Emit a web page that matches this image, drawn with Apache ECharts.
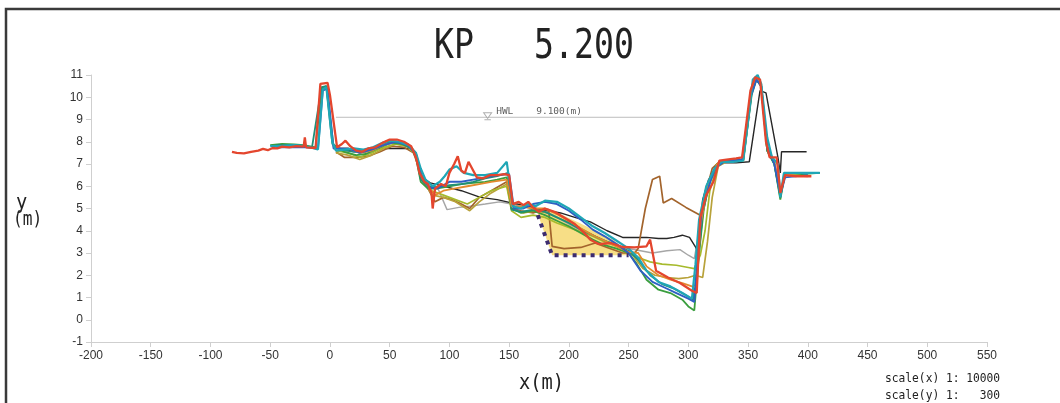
<!DOCTYPE html>
<html>
<head>
<meta charset="utf-8">
<script src="https://cdn.jsdelivr.net/npm/echarts@6/dist/echarts.min.js"></script>
<style>
  html, body { margin: 0; padding: 0; background: #fff; }
  #chart { width: 1060px; height: 403px; }
</style>
</head>
<body>
<div id="chart"></div>
<script>
// Cross-section survey profiles at KP 5.200, x = distance (m), y = elevation (m)
const xTicks = { min: -200, max: 550, interval: 50 };
const yTicks = { min: -1, max: 11, interval: 1 };
const hwlLevel = 9.1;
const hwlSpan = [5, 352];
const hwlMarkX = 132;

const profRed = [[-82,7.55],[-78,7.5],[-72,7.48],[-66,7.55],[-60,7.6],[-56,7.68],[-52,7.62],[-48,7.72],[-44,7.7],[-40,7.78],[-34,7.75],[-28,7.8],[-22,7.78],[-21,8.2],[-20,7.75],[-12,7.72],[-8,10.6],[-2,10.65],[0,10.1],[6,7.75],[10,7.9],[13,8.05],[17,7.8],[22,7.6],[27,7.55],[32,7.7],[38,7.75],[44,7.95],[50,8.1],[56,8.1],[62,8.0],[68,7.8],[72,7.3],[75,6.6],[79,6.2],[82,6.1],[85,5.7],[86,5.0],[88,5.9],[93,6.1],[97,6.0],[100,6.6],[104,7.0],[107,7.35],[110,6.7],[113,6.6],[116,7.1],[119,6.8],[123,6.4],[128,6.35],[134,6.5],[140,6.5],[146,6.55],[150,6.5],[153,5.2],[158,5.3],[162,5.15],[166,5.3],[170,5.05],[175,4.85],[180,5.0],[188,4.85],[196,4.6],[205,4.3],[212,3.95],[218,3.6],[225,3.4],[235,3.45],[245,3.27],[255,3.25],[265,3.3],[268,3.6],[273,2.2],[283,1.9],[293,1.65],[303,1.3],[307,1.2],[310,4.6],[315,5.6],[321,6.2],[326,7.15],[332,7.2],[340,7.25],[345,7.3],[352,10.3],[356,10.9],[360,10.8],[365,8.0],[368,7.3],[374,7.3],[377,5.7],[381,6.5],[390,6.45],[403,6.45]];
const profTeal = [[-50,7.8],[-40,7.82],[-30,7.85],[-20,7.8],[-10,7.65],[-6,10.35],[-3,10.45],[2,8.0],[5,7.6],[12,7.65],[20,7.7],[28,7.65],[36,7.75],[44,7.95],[50,8.05],[58,8.0],[66,7.85],[72,7.5],[76,6.8],[80,6.3],[86,6.0],[92,6.2],[96,6.45],[100,6.75],[106,6.9],[112,6.6],[120,6.5],[130,6.5],[140,6.6],[148,7.1],[153,5.1],[160,5.0],[166,5.2],[172,5.1],[180,5.35],[190,5.3],[200,5.0],[210,4.6],[220,4.2],[230,3.9],[240,3.55],[250,3.2],[258,2.8],[265,2.2],[275,1.7],[285,1.5],[295,1.2],[303,0.95],[306,2.5],[309,4.5],[315,6.0],[322,6.8],[328,7.1],[338,7.1],[346,7.15],[349,8.5],[354,10.8],[358,11.0],[361,10.6],[366,8.2],[370,7.3],[375,7.0],[377,5.5],[380,6.6],[395,6.6],[410,6.6]];
const profBlue = [[-45,7.75],[-20,7.75],[-10,7.7],[-6,10.3],[-2,10.4],[3,7.7],[15,7.7],[25,7.5],[35,7.65],[45,7.85],[55,8.0],[65,7.85],[72,7.45],[77,6.4],[83,5.95],[90,5.9],[100,6.2],[110,6.2],[120,6.3],[130,6.4],[140,6.5],[150,6.55],[154,5.0],[162,5.0],[170,5.2],[180,5.3],[190,5.2],[200,4.9],[210,4.5],[220,4.05],[230,3.75],[240,3.4],[250,3.0],[260,2.2],[270,1.7],[280,1.45],[290,1.2],[300,0.95],[305,0.8],[308,3.0],[311,4.8],[316,5.8],[322,6.8],[330,7.1],[345,7.2],[352,10.0],[357,10.8],[361,10.5],[366,7.8],[372,7.0],[377,5.6],[381,6.4],[400,6.5]];
const profGreen = [[-50,7.85],[-40,7.9],[-30,7.88],[-22,7.85],[-12,7.75],[-7,10.4],[-3,10.5],[3,7.8],[12,7.55],[22,7.4],[30,7.45],[40,7.7],[50,7.95],[60,7.9],[68,7.7],[72,7.3],[76,6.2],[82,5.9],[90,5.9],[100,6.0],[110,6.1],[120,6.15],[130,6.2],[140,6.3],[148,6.4],[152,5.0],[160,4.8],[170,4.9],[180,4.7],[190,4.45],[200,4.2],[210,3.9],[220,3.6],[230,3.35],[240,3.2],[250,3.0],[257,2.5],[265,1.8],[275,1.35],[285,1.2],[295,0.9],[300,0.6],[305,0.42],[309,3.0],[313,5.0],[318,6.3],[324,7.0],[330,7.15],[346,7.2],[353,10.2],[357,10.8],[361,10.5],[366,7.6],[372,7.0],[377,5.4],[381,6.6],[395,6.55],[410,6.6]];
const profLime = [[5,7.6],[15,7.5],[25,7.3],[35,7.5],[45,7.75],[55,7.9],[65,7.8],[72,7.4],[77,6.3],[85,5.8],[95,5.6],[105,5.4],[115,5.2],[125,5.5],[135,5.8],[148,6.0],[152,4.9],[160,4.6],[170,4.7],[180,4.6],[190,4.35],[200,4.15],[210,3.95],[220,3.75],[230,3.5],[240,3.3],[250,3.0],[258,2.8],[268,2.6],[278,2.5],[290,2.45],[300,2.35],[305,2.3],[310,2.9],[314,4.0],[318,5.8],[324,6.9],[330,7.1],[346,7.15],[353,10.3],[357,10.8],[361,10.5],[366,7.6],[372,7.0],[377,5.6],[381,6.5],[400,6.5]];
const profOlive = [[5,7.5],[15,7.4],[25,7.2],[35,7.4],[45,7.7],[55,7.9],[65,7.8],[72,7.4],[78,6.2],[86,5.6],[95,5.5],[105,5.3],[117,4.9],[125,5.3],[135,5.7],[148,6.1],[152,5.0],[162,4.8],[172,4.9],[182,4.8],[192,4.55],[202,4.35],[212,4.05],[222,3.75],[232,3.5],[242,3.3],[252,3.0],[262,2.3],[272,2.0],[282,1.9],[292,1.85],[300,1.9],[306,2.0],[312,1.9],[316,3.5],[320,5.5],[325,6.9],[332,7.1],[346,7.15]];
const profBrown = [[5,7.55],[12,7.3],[22,7.3],[32,7.35],[42,7.55],[52,7.8],[62,7.75],[70,7.5],[76,6.6],[83,5.8],[88,5.3],[95,5.5],[102,5.4],[110,5.2],[117,5.0],[125,5.5],[135,5.8],[148,6.2],[152,5.0],[160,4.9],[170,4.8],[178,4.95],[183,4.95],[186,3.3],[196,3.2],[210,3.25],[222,3.45],[232,3.25],[245,3.0],[255,3.0],[258,3.2],[264,5.0],[270,6.3],[276,6.45],[279,5.25],[286,5.45],[298,5.05],[310,4.7],[315,5.8],[320,6.8],[326,7.1],[340,7.15],[346,7.2]];
const profOrange = [[5,7.7],[15,7.7],[25,7.5],[35,7.6],[45,7.85],[55,8.0],[65,7.9],[72,7.5],[76,6.5],[82,6.0],[88,5.6],[95,5.8],[105,5.9],[115,6.0],[125,6.1],[135,6.2],[148,6.3],[152,5.1],[160,5.1],[170,5.0],[180,5.0],[190,4.75],[200,4.45],[210,4.1],[220,3.8],[230,3.55],[240,3.3],[250,3.05],[258,3.0],[265,2.4],[275,2.0],[285,1.8],[295,1.65],[303,1.5],[307,1.45],[310,4.2],[316,6.0],[324,7.0],[330,7.15],[346,7.2],[353,10.4],[357,10.85],[361,10.6],[366,7.8],[372,7.1],[377,5.8],[381,6.5],[400,6.45]];
const profGray = [[5,7.7],[15,7.6],[25,7.5],[35,7.6],[45,7.8],[55,8.0],[65,7.85],[72,7.5],[77,6.4],[84,6.1],[90,5.95],[98,4.95],[108,5.05],[117,5.1],[130,5.2],[142,5.3],[152,5.2],[160,5.1],[170,5.0],[180,4.9],[190,4.6],[200,4.3],[210,4.0],[220,3.8],[230,3.55],[240,3.35],[250,3.2],[260,3.1],[270,3.0],[282,3.1],[293,3.15],[300,2.9],[305,2.75],[309,4.0],[313,5.5],[319,6.5],[326,7.05],[335,7.1],[346,7.15]];
const profBlack = [[5,7.6],[20,7.6],[40,7.7],[55,7.7],[68,7.7],[72,7.4],[77,6.4],[84,6.15],[90,6.07],[110,5.8],[126,5.5],[140,5.4],[152,5.25],[162,5.15],[173,5.0],[183,4.9],[193,4.8],[205,4.6],[218,4.4],[232,4.0],[245,3.7],[255,3.7],[265,3.7],[275,3.65],[282,3.65],[288,3.7],[295,3.8],[301,3.7],[308,3.1],[312,5.4],[317,6.3],[321,6.6],[326,7.05],[340,7.05],[351,7.1],[360,10.3],[365,10.2],[375,7.3],[377,6.6],[378,7.55],[399,7.55]];
const profSea = [[-45,7.85],[-30,7.85],[-15,7.75],[-7,10.45],[-3,10.5],[2,7.9],[10,7.65],[20,7.55],[30,7.55],[40,7.75],[50,8.0],[60,7.95],[68,7.75],[72,7.4],[76,6.3],[82,6.0],[90,5.95],[100,6.05],[110,6.1],[120,6.2],[130,6.35],[140,6.45],[149,6.6],[152,4.95],[160,4.85],[170,4.95],[180,4.85],[190,4.6],[200,4.35],[210,4.05],[220,3.8],[230,3.55],[240,3.35],[250,3.1],[258,2.7],[268,2.0],[278,1.6],[288,1.4],[298,1.1],[304,0.9],[308,2.5],[312,4.8],[318,6.2],[325,7.0],[332,7.15],[346,7.2],[353,10.1],[357,10.8],[361,10.5],[366,7.6],[372,7.0],[377,5.5],[381,6.6],[410,6.6]];

// Planned excavation section (filled) and its dotted design line
const cutArea = [[174,4.75],[186,2.9],[250,2.9],[245,3.25],[237,3.6],[222,4.0],[209,4.35],[195,4.7],[182,5.0],[176,4.95]];
const designLine = [[174,4.7],[186,2.9],[250,2.9]];

const profiles = [
  { data: profGray,   color: '#a6a6a6', width: 1.4 },
  { data: profBlack,  color: '#262626', width: 1.4 },
  { data: profBrown,  color: '#a3642c', width: 1.7 },
  { data: profOlive,  color: '#b8a23a', width: 1.7 },
  { data: profLime,   color: '#a6ba2c', width: 1.7 },
  { data: profGreen,  color: '#3a9e3e', width: 1.8 },
  { data: profSea,    color: '#1f8f78', width: 1.8 },
  { data: profOrange, color: '#e38a2e', width: 1.8 },
  { data: profBlue,   color: '#2e5fc4', width: 1.9 },
  { data: profTeal,   color: '#1fa6b6', width: 2.2 },
  { data: profRed,    color: '#e4462e', width: 2.3 }
];

const chart = echarts.init(document.getElementById('chart'), null, { renderer: 'canvas' });

const mono = '"DejaVu Sans Mono", "Liberation Mono", monospace';

const series = [
  {
    type: 'custom',
    z: 1,
    silent: true,
    data: [0],
    renderItem: function (params, api) {
      const pts = cutArea.map(p => api.coord(p));
      return {
        type: 'polygon',
        shape: { points: pts },
        style: { fill: 'rgba(247, 220, 128, 0.95)', stroke: 'none' }
      };
    }
  },
  {
    type: 'line',
    z: 2,
    data: hwlSpan.map(x => [x, hwlLevel]),
    symbol: 'none',
    lineStyle: { color: '#bdbdbd', width: 1 },
    silent: true
  },
  {
    type: 'scatter',
    z: 3,
    data: [[hwlMarkX, hwlLevel]],
    symbol: 'path://M0,0 L10,0 L5,8 Z M1,10 L9,10',
    symbolSize: [8, 7],
    symbolOffset: [0, -1],
    itemStyle: { color: '#fff', borderColor: '#9a9a9a', borderWidth: 1 },
    label: {
      show: true,
      position: 'right',
      distance: 4,
      offset: [0, -5],
      formatter: 'HWL    9.100(m)',
      fontFamily: mono,
      fontSize: 9.5,
      color: '#333'
    },
    silent: true
  }
];

profiles.forEach((p, i) => {
  series.push({
    type: 'line',
    z: 5 + i,
    data: p.data,
    symbol: 'none',
    lineStyle: { color: p.color, width: p.width },
    silent: true
  });
});

series.push({
  type: 'line',
  z: 30,
  data: designLine,
  symbol: 'none',
  lineStyle: { color: '#3c2c70', width: 4, type: [4, 5] },
  silent: true
});

chart.setOption({
  backgroundColor: '#ffffff',
  animation: false,
  grid: { left: 91, right: 73, top: 75, bottom: 61, containLabel: false },
  xAxis: {
    type: 'value',
    min: xTicks.min, max: xTicks.max, interval: xTicks.interval,
    axisLine: { show: true, onZero: false, lineStyle: { color: '#cfcfcf', width: 1 } },
    axisTick: { show: true, length: 5, lineStyle: { color: '#cfcfcf' } },
    splitLine: { show: false },
    axisLabel: { color: '#333', fontSize: 12, margin: 8 }
  },
  yAxis: {
    type: 'value',
    min: yTicks.min, max: yTicks.max, interval: yTicks.interval,
    axisLine: { show: true, onZero: false, lineStyle: { color: '#cfcfcf', width: 1 } },
    axisTick: { show: true, length: 5, lineStyle: { color: '#cfcfcf' } },
    splitLine: { show: false },
    axisLabel: { color: '#333', fontSize: 12, margin: 8 }
  },
  graphic: [
    {
      type: 'rect', silent: true, z: 100,
      shape: { x: 6, y: 9, width: 1200, height: 600 },
      style: { fill: 'none', stroke: '#3a3a3a', lineWidth: 2.5 }
    },
    {
      type: 'text', silent: true, x: 434, y: 27, scaleX: 0.81,
      style: { text: 'KP   5.200', font: '41px ' + mono, fill: '#222', textVerticalAlign: 'top' }
    },
    {
      type: 'text', silent: true, x: 16, y: 192, scaleX: 0.85,
      style: { text: 'y', font: '22px ' + mono, fill: '#222', textVerticalAlign: 'top' }
    },
    {
      type: 'text', silent: true, x: 13, y: 211, scaleX: 0.85,
      style: { text: '(m)', font: '19px ' + mono, fill: '#222', textVerticalAlign: 'top' }
    },
    {
      type: 'text', silent: true, x: 519, y: 372, scaleX: 0.85,
      style: { text: 'x(m)', font: '22px ' + mono, fill: '#222', textVerticalAlign: 'top' }
    },
    {
      type: 'text', silent: true, x: 885, y: 372, scaleX: 0.9,
      style: { text: 'scale(x) 1: 10000', font: '12.5px ' + mono, fill: '#222', textVerticalAlign: 'top' }
    },
    {
      type: 'text', silent: true, x: 885, y: 389, scaleX: 0.9,
      style: { text: 'scale(y) 1:   300', font: '12.5px ' + mono, fill: '#222', textVerticalAlign: 'top' }
    }
  ],
  series: series
});
</script>
</body>
</html>
